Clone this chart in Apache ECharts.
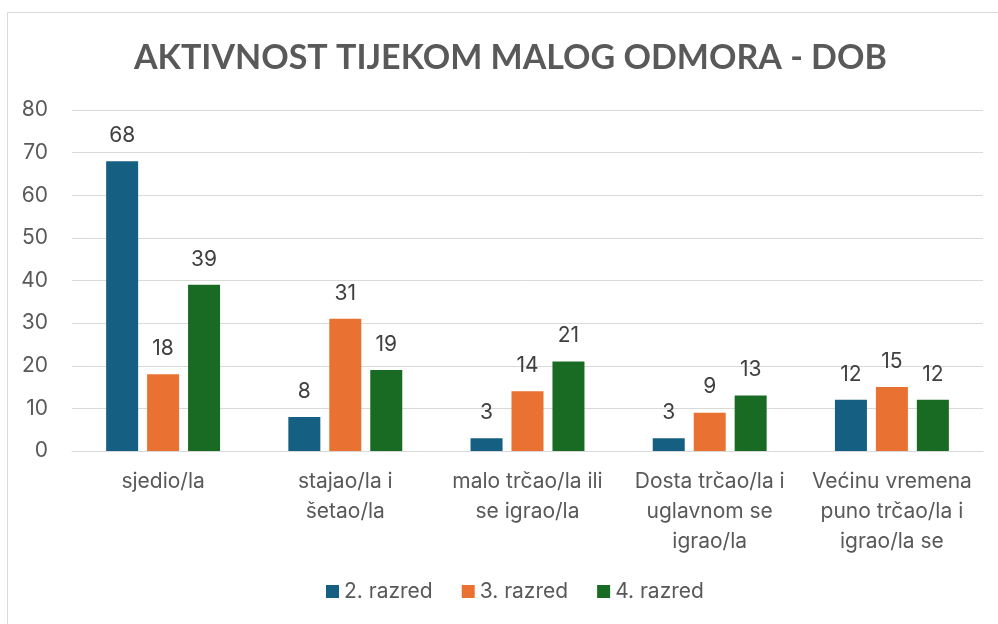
<!DOCTYPE html>
<html>
<head>
<meta charset="utf-8">
<script src="https://cdn.jsdelivr.net/npm/echarts@6/dist/echarts.min.js"></script>
<style>
  html, body { margin: 0; padding: 0; background: #fff; }
  #main { width: 998px; height: 624px; }
</style>
</head>
<body>
<div id="main"></div>
<script>
"use strict";
var categories = [
    'sjedio/la',
    'stajao/la i\nšetao/la',
    'malo trčao/la ili\nse igrao/la',
    'Dosta trčao/la i\nuglavnom se\nigrao/la',
    'Većinu vremena\npuno trčao/la i\nigrao/la se'
];
var seriesNames = ['2. razred', '3. razred', '4. razred'];
var razred2 = [68, 8, 3, 3, 12];
var razred3 = [18, 31, 14, 9, 15];
var razred4 = [39, 19, 21, 13, 12];
var colors = ['#156082', '#E97132', '#196B24'];

var textColor = '#595959';
var fontName = 'Inter';
var fontSize = 21;

function makeSeries(name, data, color){
    return {
        name: name,
        type: 'bar',
        data: data,
        barWidth: 32,
        barGap: '28%',
        itemStyle: { color: color },
        label: {
            show: true,
            position: 'top',
            distance: 15,
            color: '#404040',
            fontSize: fontSize,
            fontFamily: fontName
        }
    };
}

var dom = document.getElementById('main');
var myChart = echarts.init(dom);
var option = {
    animation: false,
    color: colors,
    graphic: [{
        type: 'rect',
        shape: { x: 7.5, y: 12.5, width: 1100, height: 800 },
        style: { fill: 'none', stroke: '#d9d9d9', lineWidth: 1 },
        silent: true
    }],
    title: {
        text: 'AKTIVNOST TIJEKOM MALOG ODMORA - DOB',
        left: 129,
        top: 36,
        textStyle: {
            color: textColor,
            fontSize: 34,
            fontWeight: 'bold',
            fontFamily: 'Lato'
        }
    },
    legend: {
        bottom: 17,
        left: 321,
        itemWidth: 13,
        itemHeight: 13,
        itemGap: 29,
        itemTextGap: 4,
        icon: 'rect',
        textStyle: { color: textColor, fontSize: fontSize, fontFamily: fontName },
        data: seriesNames
    },
    grid: { left: 72, right: 15, top: 110, bottom: 173 },
    xAxis: {
        type: 'category',
        data: categories,
        axisTick: { show: false },
        axisLine: { lineStyle: { color: '#d9d9d9', width: 1 } },
        axisLabel: {
            color: textColor,
            fontSize: fontSize,
            fontFamily: fontName,
            lineHeight: 30,
            margin: 16,
            interval: 0
        }
    },
    yAxis: {
        type: 'value',
        min: 0,
        max: 80,
        interval: 10,
        axisLine: { show: false },
        axisTick: { show: false },
        splitLine: { lineStyle: { color: '#d9d9d9', width: 1 } },
        axisLabel: {
            color: textColor,
            fontSize: fontSize,
            fontFamily: fontName,
            margin: 24
        }
    },
    series: [
        makeSeries(seriesNames[0], razred2, colors[0]),
        makeSeries(seriesNames[1], razred3, colors[1]),
        makeSeries(seriesNames[2], razred4, colors[2])
    ]
};
myChart.setOption(option, true);
</script>
</body>
</html>
